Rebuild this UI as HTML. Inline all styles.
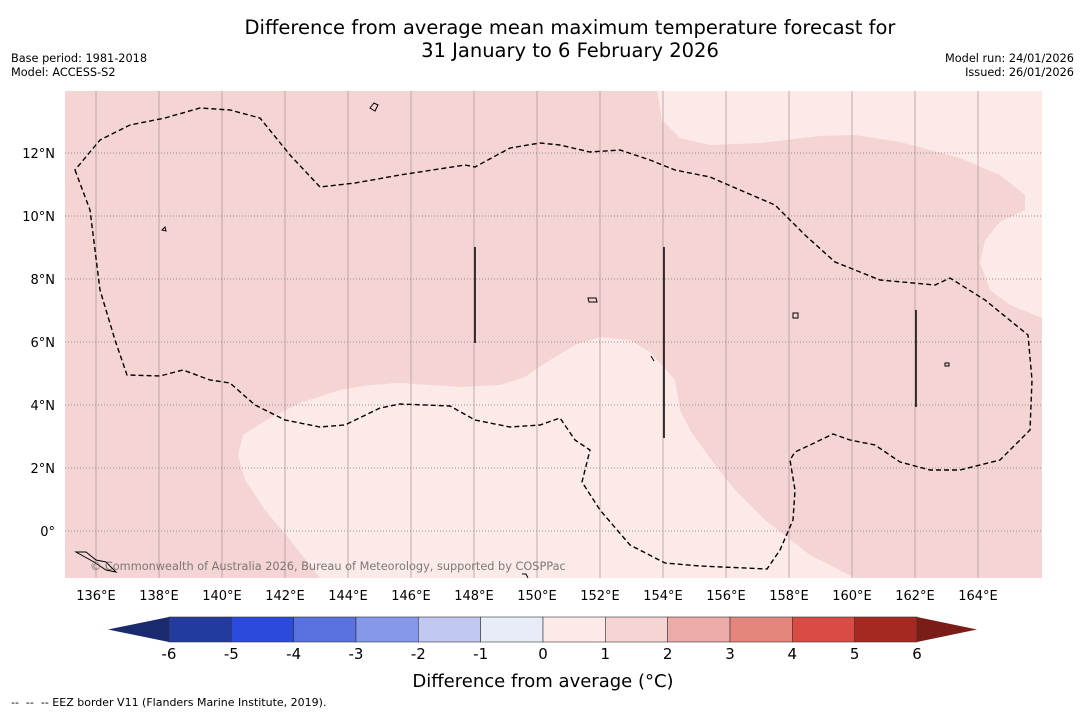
<!DOCTYPE html>
<html><head><meta charset="utf-8"><style>
body{margin:0;background:#fff;font-family:"DejaVu Sans","Liberation Sans",sans-serif}
svg text{font-family:"DejaVu Sans","Liberation Sans",sans-serif}
</style></head><body>
<svg id="chart" width="1085" height="713" viewBox="0 0 1085 713">
<rect width="1085" height="713" fill="#fff"/>
<text x="570" y="34" font-size="19.5" text-anchor="middle">Difference from average mean maximum temperature forecast for</text>
<text x="570" y="57" font-size="19.5" text-anchor="middle">31 January to 6 February 2026</text>
<text x="11" y="62" font-size="11.3">Base period: 1981-2018</text>
<text x="11" y="76" font-size="11.3">Model: ACCESS-S2</text>
<text x="1074" y="62" font-size="11.3" text-anchor="end">Model run: 24/01/2026</text>
<text x="1074" y="76" font-size="11.3" text-anchor="end">Issued: 26/01/2026</text>
<g>
<rect x="65" y="91" width="977" height="487" fill="#f5d5d3"/>
<polygon fill="#fbeae8" points="657,91 662,120 680,138 710,145 760,143 820,136 855,135 900,142 960,158 1000,175 1025,195 1025,210 1000,222 985,240 980,262 990,290 1010,305 1042,318 1042,91"/>
<polygon fill="#fbeae8" points="243,435 238,455 245,480 265,510 290,540 320,578 855,578 810,555 765,520 735,490 715,465 690,430 680,410 675,380 650,352 630,340 600,337 575,345 550,360 525,377 500,385 460,387 400,383 370,385 340,390 300,403 270,418"/>
<g id="grid"></g>
<polygon fill="none" stroke="#000" stroke-width="1.4" stroke-dasharray="5,3" points="75,170 90,210 95,250 100,290 115,340 127,375 160,376 183,370 210,380 230,383 255,405 285,420 320,427 345,425 380,408 400,404 450,406 475,420 510,427 540,425 560,418 575,440 590,450 582,482 600,510 630,545 665,563 700,566 767,569 780,550 793,520 795,490 790,460 795,452 810,445 833,434 850,440 875,445 900,462 930,470 960,470 1000,460 1030,430 1032,380 1028,335 985,300 950,278 935,285 880,280 835,262 805,235 775,205 740,190 710,177 675,170 650,160 620,150 590,152 560,145 540,143 510,148 475,167 465,165 400,175 355,183 320,187 290,155 260,118 230,110 200,108 165,118 130,125 100,140"/>
<line x1="475" y1="247" x2="475" y2="343" stroke="#000" stroke-width="1.5"/>
<line x1="664" y1="247" x2="664" y2="438" stroke="#000" stroke-width="1.5"/>
<line x1="916" y1="310" x2="916" y2="407" stroke="#000" stroke-width="1.5"/>
<g fill="none" stroke="#000" stroke-width="1">
<path d="M370,108 l4,-5 l4,2 l-3,6 z"/><path d="M162,230 l3,-3 l1,4 z"/><path d="M588,298 l8,0 l1,4 l-8,0 z"/>
<path d="M793,313 l5,0 l0,5 l-5,0 z"/><path d="M945,363 l4,0 l0,3 l-4,0 z"/><path d="M76,552 l10,0 l10,8 l10,2 l10,10 l-10,-2 l-12,-8 z"/>
<path d="M522,574 l4,0 l2,4"/><path d="M651,356 l3,5"/>
</g>
<text x="90" y="570" font-size="11.3" fill="#666" opacity="0.85">© Commonwealth of Australia 2026, Bureau of Meteorology, supported by COSPPac</text>
</g>
<g id="axes"></g>
<g id="cbar"></g>
<text x="543" y="687" font-size="18" text-anchor="middle">Difference from average (°C)</text>
<text x="11" y="706" font-size="11" xml:space="preserve">--  --  -- EEZ border V11 (Flanders Marine Institute, 2019).</text>
</svg>
<script>
const lonTicks=[136,138,140,142,144,146,148,150,152,154,156,158,160,162,164];
const latTicks=[0,2,4,6,8,10,12];
const levels=[-6,-5,-4,-3,-2,-1,0,1,2,3,4,5,6];
const levelColors=["#233a9f","#2c4bdc","#5a72e0","#8598ea","#c1c8f2","#e8ebf8","#fbeae8","#f5d5d3","#ecaba6","#e5867e","#d94c43","#a62921"];
const extendColors=["#1a2a6e","#7a1c17"];
const NS="http://www.w3.org/2000/svg";
function xLon(l){return 64.5+(l-135)*31.5;}
function yLat(l){return 531-l*31.5;}
function mk(t,a,p){const e=document.createElementNS(NS,t);for(const k in a)e.setAttribute(k,a[k]);p.appendChild(e);return e;}
const grid=document.getElementById('grid'),axes=document.getElementById('axes');
lonTicks.forEach(l=>{
 const g=mk('line',{x1:xLon(l),x2:xLon(l),y1:91,y2:578,stroke:'#a89090','stroke-width':0.7},grid);
 
 
 const t=mk('text',{x:xLon(l),y:600,'font-size':13,'text-anchor':'middle'},axes);t.textContent=l+'°E';
 
 
});
latTicks.forEach(l=>{
 const g=mk('line',{x1:65,x2:1042,y1:yLat(l),y2:yLat(l),stroke:'#777','stroke-width':0.8,'stroke-dasharray':'1,2'},grid);
 
 
 const t=mk('text',{x:55,y:yLat(l)+5,'font-size':13,'text-anchor':'end'},axes);t.textContent=l===0?'0°':l+'°N';
 
 
});
const cb=document.getElementById('cbar');
const x0=169,x1=917,yT=617,yB=642;
function cx(v){return x0+(v-levels[0])/(levels[levels.length-1]-levels[0])*(x1-x0);}
const lt=mk('polygon',{points:`108,629.5 ${x0},${yT} ${x0},${yB}`,fill:extendColors[0]},cb);


const rt=mk('polygon',{points:`977,629.5 ${x1},${yT} ${x1},${yB}`,fill:extendColors[1]},cb);


levelColors.forEach((c,i)=>{
 const r=mk('rect',{x:cx(levels[i]),y:yT,width:cx(levels[i+1])-cx(levels[i]),height:yB-yT,fill:c,stroke:'#333','stroke-width':0.6},cb);
 
 
});
levels.forEach(v=>{
 const t=mk('text',{x:cx(v),y:659,'font-size':15,'text-anchor':'middle'},cb);t.textContent=v;
 
 
});
</script>
</body></html>
